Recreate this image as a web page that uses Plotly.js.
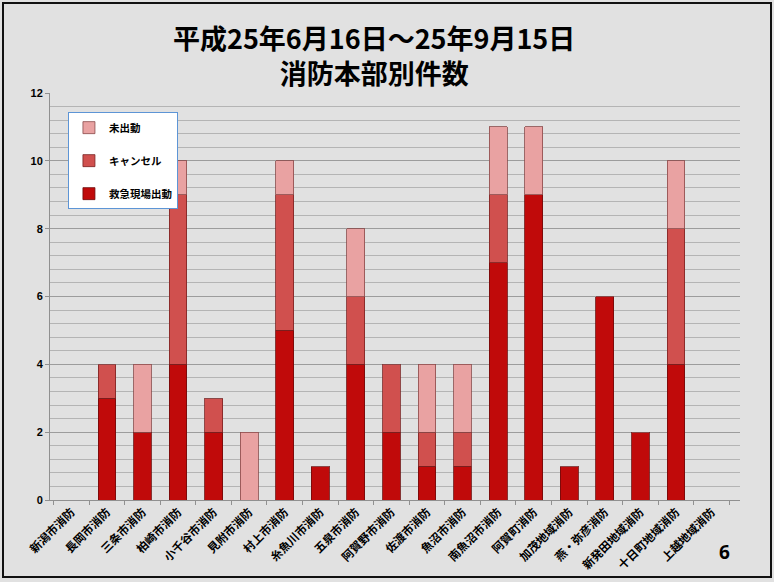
<!DOCTYPE html>
<html><head><meta charset="utf-8">
<script src="https://cdn.plot.ly/plotly-3.0.1.min.js"></script>
<style>
html,body{margin:0;padding:0;background:#e2e2e2;}
#wrap{position:relative;width:774px;height:582px;background-color:#e1e1e1;}
#chart{width:774px;height:582px;}
#frame{position:absolute;left:2px;top:2px;width:766px;height:572px;border:2px solid #111;pointer-events:none;}
</style></head>
<body><div id="wrap"><div id="chart"></div><div id="frame"></div></div>
<script>
const categories = ['新潟市消防','長岡市消防','三条市消防','柏崎市消防','小千谷市消防','見附市消防','村上市消防','糸魚川市消防','五泉市消防','阿賀野市消防','佐渡市消防','魚沼市消防','南魚沼市消防','阿賀町消防','加茂地域消防','燕・弥彦消防','新発田地域消防','十日町地域消防','上越地域消防'];
const dispatched = [0,3,2,4,2,0,5,1,4,2,1,1,7,9,1,6,2,4,0];   // 救急現場出動
const cancelled  = [0,1,0,5,1,0,4,0,2,2,1,1,2,0,0,0,0,4,0];   // キャンセル
const notDispatched = [0,0,2,1,0,2,1,0,2,0,2,2,2,2,0,0,0,2,0]; // 未出動
const seriesNames = ['救急現場出動','キャンセル','未出動'];
const titleLines = ['平成25年6月16日～25年9月15日','消防本部別件数'];
const pageNumber = '6';
const colors = ['#c00a0a','#d0504e','#e9a2a2'];
const lineColors = ['#6e0a0a','#7a2222','#8a4a4a'];

const values = [dispatched, cancelled, notDispatched];
const traces = values.map((v,i)=>({
  type:'bar', name:'<b>'+seriesNames[i]+'</b>', x:categories, y:v,
  legendgroup:'g'+i, legendrank:3-i,
  marker:{color:colors[i], line:{color:lineColors[i], width:0.8}},
  width:0.5
}));

const cjk = '"Noto Sans CJK JP", sans-serif';
const layout = {
  width:774, height:582,
  paper_bgcolor:'rgba(0,0,0,0)', plot_bgcolor:'rgba(0,0,0,0)',
  margin:{l:50, r:34, t:93, b:82},
  barmode:'stack',
  showlegend:true,
  legend:{x:0.026, y:0.953, xanchor:'left', yanchor:'top',
    bgcolor:'#ffffff', bordercolor:'#5d95d6', borderwidth:1,
    traceorder:'grouped', tracegroupgap:14, itemwidth:30,
    font:{family:cjk, size:10.5, color:'#000'}},
  xaxis:{type:'category', range:[-0.6,18.8], tickangle:-45,
    tickvals:categories, ticktext:categories.map(c=>'<b>'+c+'</b>'),
    tickson:'boundaries', ticks:'outside', ticklen:4, tickcolor:'#909090',
    showline:true, linecolor:'#909090', showgrid:false,
    tickfont:{family:cjk, size:11.5, color:'#000'}},
  yaxis:{range:[0,12], dtick:2, tick0:0, ticks:'outside', ticklen:4, tickcolor:'#909090',
    showline:true, linecolor:'#909090',
    showgrid:true, gridcolor:'#9c9c9c', gridwidth:1, zeroline:false,
    minor:{dtick:0.4, showgrid:true, gridcolor:'#b4b4b4', gridwidth:1},
    tickfont:{family:'"Liberation Sans", Arial, sans-serif', size:11, color:'#000', weight:'bold'}},
  annotations:[
    {text:'<b>'+titleLines.join('<br>')+'</b>', xref:'paper', yref:'paper', x:0.47, y:1.093,
      xanchor:'center', yanchor:'middle', showarrow:false, font:{family:cjk, size:27, color:'#000'}},
    {text:'<b>'+pageNumber+'</b>', xref:'paper', yref:'paper', x:0.978, y:-0.128,
      xanchor:'center', yanchor:'middle', showarrow:false,
      font:{family:'"Noto Sans", sans-serif', size:19, color:'#000'}}]
};
Plotly.newPlot('chart', traces, layout, {displayModeBar:false, staticPlot:true});
</script></body></html>
